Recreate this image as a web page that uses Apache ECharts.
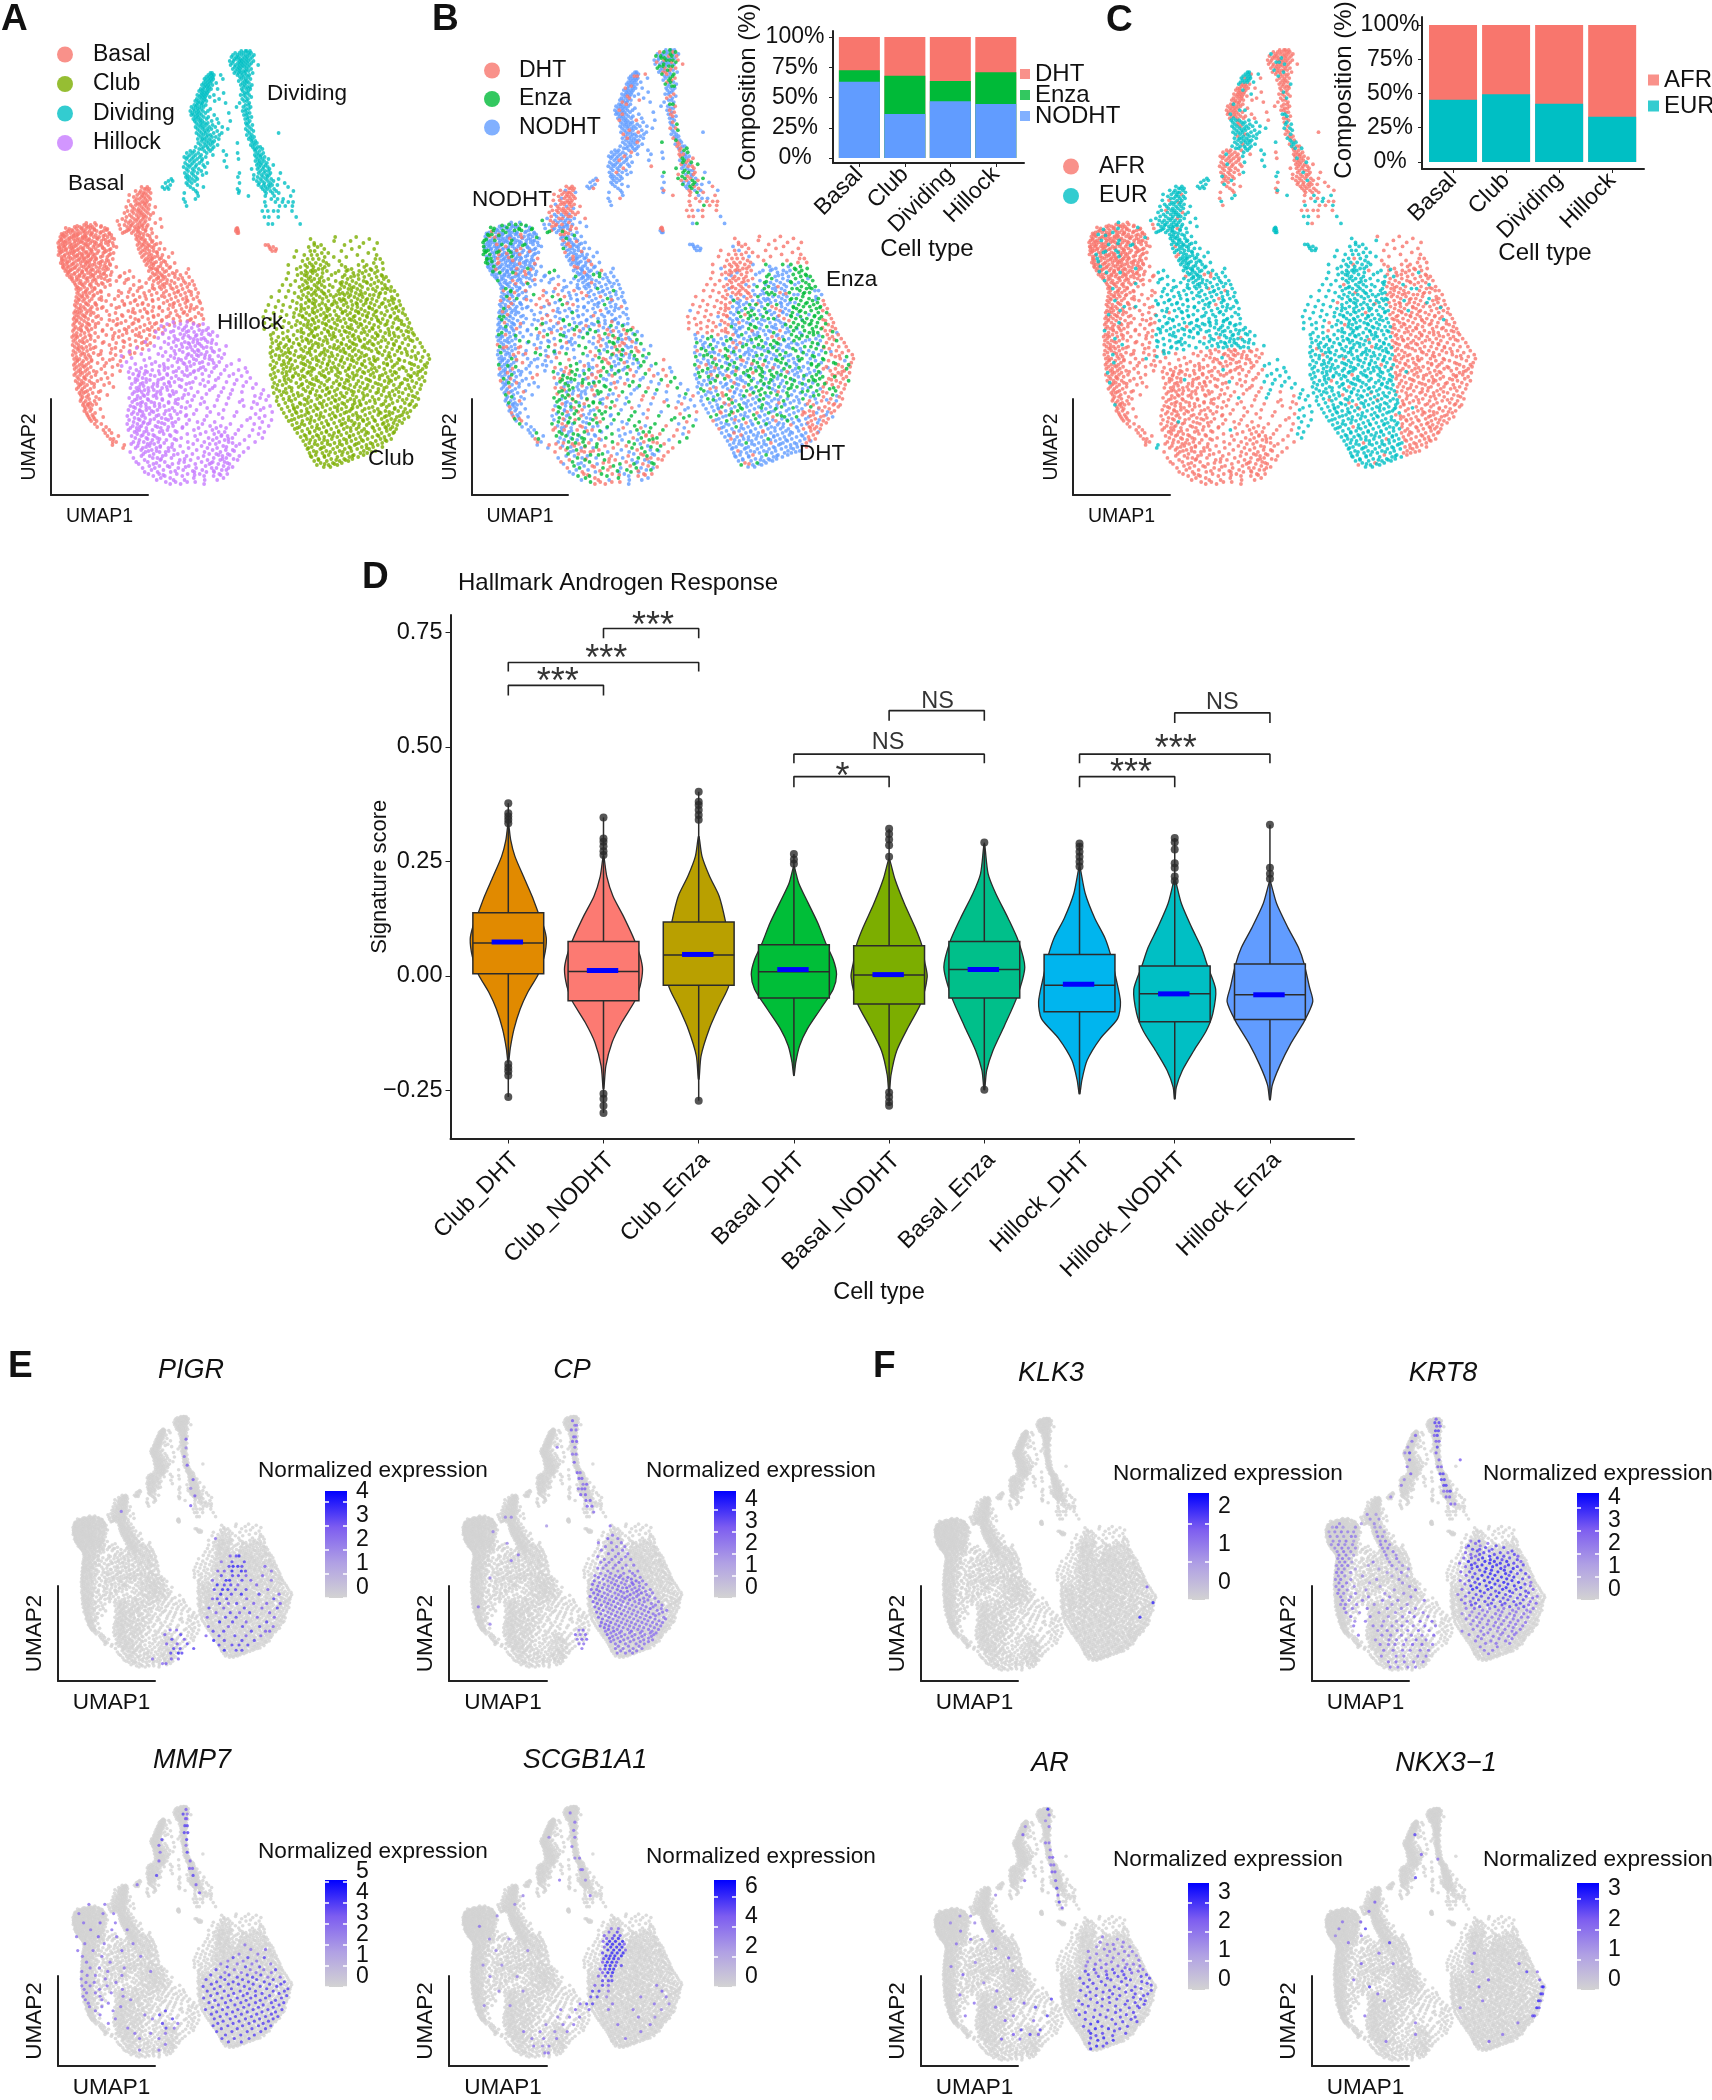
<!DOCTYPE html>
<html><head><meta charset="utf-8">
<style>html,body{margin:0;padding:0;background:#fff}#c{width:1712px;height:2100px}</style>
<script src="https://cdn.jsdelivr.net/npm/echarts@6/dist/echarts.min.js"></script></head>
<body><div id="c"></div>
<script>
// UMAP cells. Each row: [umap2, cell, cell, ...]; cell = umap1 in tenths
const dividingRows=[
[49,2441,2472],[51,2413,2454,2500,2467],[53,2352,2394,2433,2482,2511],[55,2329,2377,2416,2458,2493,2540],
[57,2314,2361,2387,2442,2474,2522],[59,2343,2368,2401,2429,2466,2503],[61,2297,2336,2395,2418,2451,2484,2535],
[63,2322,2379,2409,2437,2472,2514],[65,2306,2353,2391,2423,2459,2497,2582],[67,2348,2384,2416,2444,2481],[69,2328,2373,2402,2465,2512],
[71,2359,2396,2431,2486,2455],[73,2104,2121,2343,2385,2412,2449,2527],[75,2083,2115,2139,2207,2374,2422,2463,2494],
[77,2062,2097,2127,2399,2436,2481],[79,2044,2079,2108,2133,2229,2413,2458,2505],[81,2058,2092,2118,2387,2444,2472],
[83,2036,2071,2102,2162,2425,2461,2490],[85,2019,2053,2084,2124,2408,2447,2519],[87,2042,2067,2095,2437,2474,2498],
[89,2007,2032,2078,2111,2176,2416,2463,2503],[91,1991,2025,2059,2088,2428,2485],[93,2016,2044,2073,2236,2449,2471],
[95,1973,2008,2035,2066,2139,2406,2438,2492],[97,1995,2027,2052,2098,2457,2513],[99,1968,2013,2047,2191,2422,2479],
[101,1952,1986,2033,2064,2147,2441,2468],[103,1977,2004,2025,2256,2396,2493],[105,1943,1969,2017,2058,2454,2484],
[107,1914,1958,1994,2036,2365,2433,2507],[109,1936,1975,2011,2103,2461,2488],[111,1903,1947,1983,2029,2079,2426,2452],
[113,1923,1965,1998,2054,2288,2473,2497],[115,1912,1939,1977,2016,2142,2439,2462],[117,1954,1986,2038,2083,2482,2515],
[119,1933,1969,2006,2066,2171,2451,2476],[121,1947,1992,2024,2117,2303,2498],[123,1962,2009,2045,2078,2186,2458,2482],
[125,1982,2019,2061,2126,2469,2524],[127,1955,2003,2039,2093,2153,2223,2491],[129,1974,2028,2071,2114,2278,2457,2512],
[131,1996,2047,2084,2172,2478,2534],[133,1964,2015,2056,2137,2218,2496,2786],[135,1987,2033,2079,2104,2193,2468,2519],
[137,2009,2064,2121,2158,2503,2541],[139,1978,2027,2046,2093,2188,2521,2487],[141,2013,2068,2112,2143,2514,2553],
[143,1982,2041,2085,2127,2374,2532,2569],[145,2005,2059,2106,2176,2508,2547],[147,1956,2034,2073,2138,2527,2578,2603],
[149,1991,2018,2084,2121,2543,2562,2624],[151,1903,1942,2044,2102,2234,2551,2596],[153,1868,1925,1983,2067,2376,2572,2633],
[155,1899,1956,2012,2129,2264,2548,2588,2612],[157,1842,1878,1934,1997,2058,2561,2604,2647],[159,1863,1918,1971,2024,2385,2579,2622,2685],
[161,1896,1947,2016,2243,2554,2596,2641],[163,1851,1928,1993,2075,2583,2618,2669],[165,1874,1909,1964,2032,2568,2607,2654,2733],
[167,1836,1892,1952,2048,2267,2592,2638,2678],[169,1864,1926,1987,2516,2574,2627,2695],[171,1881,1942,2013,2603,2652,2682],
[173,1848,1917,1976,2064,2394,2586,2639,2705,2804],[175,1872,1933,2026,2538,2614,2667,2691],[177,1859,1894,1958,2379,2576,2631,2674],
[179,1713,1876,1921,1974,2536,2603,2658,2712,2786],[181,1684,1727,1892,1949,2568,2621,2679,2735],[183,1655,1863,1918,2395,2592,2644,2703,2847],
[185,1703,1879,1973,2583,2637,2686,2722,2774],[187,1624,1672,1904,2034,2612,2656,2698,2881],[189,1646,1687,1933,2375,2627,2673,2741],
[191,1958,2392,2648,2704,2762,2934],[193,1843,1973,2386,2661,2726,2788],[196,1982,2484,2653,2742,2907],[199,1836,1954,2713,2776,2832],
[202,1852,2648,2754,2824,2883,2931],[206,1866,2657,2795,2853,2924],[211,2623,2678,2736,2781,2920],[217,2644,2689,2783,2962],[224,2682,2725,3002]];
const basalRows=[
[187,1415,1473],[189,1443,1461,1494],[191,1356,1407,1482],[193,1394,1433,1451,1507],[195,1292,1372,1423,1469],[197,1338,1413,1441,1488],
[199,1367,1396,1454,1503],[201,1285,1349,1428,1473],[203,1374,1406,1439,1461],[205,1307,1358,1392,1448,1494],[207,1262,1326,1417,1466,1553],
[209,1343,1385,1434,1487],[211,1276,1319,1371,1403,1458],[213,1244,1334,1392,1421,1479,1533],[215,1297,1365,1412,1443,1506],[217,1264,1318,1387,1436,1462],
[219,1223,1342,1376,1429,1495,1604],[221,1174,1256,1303,1361,1408,1457],[223,863,949,1284,1331,1393,1442,1553],[225,841,907,962,1193,1245,1316,1372,1418,1478],
[227,746,798,883,926,1008,1272,1347,1395,1466,1617],[229,692,763,816,859,944,1074,1203,1298,1361,1429,1514],[231,684,728,781,835,897,967,1038,1266,1338,1384,1455],
[233,641,706,752,809,873,921,1002,1093,1226,1318,1407,1522],[235,627,669,738,776,846,905,958,1051,1113,1357,1393,1474],[237,603,648,714,763,824,861,937,992,1077,1375,1431,1565],
[239,618,681,735,791,848,893,976,1036,1142,1362,1416,1503],[241,594,657,699,752,817,869,921,1014,1096,1383,1442,1527],[243,581,628,672,743,786,832,904,962,1057,1127,1398,1468,1604],
[245,606,653,718,769,851,881,945,999,1082,1374,1423,1491,1546],[247,587,642,694,737,808,876,933,1024,1165,1409,1453,1517],[249,613,664,725,784,823,897,958,1043,1107,1386,1474,1593,1646],
[251,592,631,705,748,839,918,986,1063,1421,1498,1537],[253,602,673,719,796,859,903,972,1033,1136,1403,1461,1572,1724],[255,584,649,738,774,827,886,948,1091,1439,1516,1624],
[257,615,687,751,812,869,927,1007,1073,1419,1483,1547,1687],[259,622,659,728,793,844,911,964,1128,1458,1523,1596],[261,633,694,761,825,878,946,1021,1085,1444,1507,1638],
[263,607,671,738,806,867,893,986,1052,1478,1541,1612,1747],[265,642,712,772,853,925,1006,1103,1462,1534,1668],[267,628,689,753,835,884,962,1064,1163,1497,1582,1703],
[269,664,724,791,861,918,1029,1082,1513,1556,1627,1884],[271,652,697,776,822,903,974,1296,1488,1574,1663,1768],[273,683,749,817,879,955,1043,1246,1526,1598,1726,1863],
[275,671,712,793,846,927,1008,1107,1542,1617,1689,1804],[277,696,766,834,903,982,1193,1335,1509,1583,1651,1749,1891],[279,714,781,862,941,1047,1284,1492,1566,1632,1783],
[281,729,807,878,926,1076,1164,1394,1537,1607,1714,1837,1924],[283,745,793,851,963,1018,1245,1461,1582,1668,1746,1853],[285,756,826,897,984,1102,1337,1527,1623,1701,1812,1942],
[287,773,842,915,1051,1418,1596,1644,1767,1873],[289,762,809,873,947,1303,1544,1613,1729,1826,1956],[291,786,858,923,1006,1187,1375,1493,1662,1785,1889],
[293,771,832,896,975,1214,1441,1568,1637,1743,1851,1982],[295,794,864,941,1088,1333,1516,1694,1807,1913],[297,763,818,877,1013,1276,1397,1646,1758,1863,1971],
[299,785,846,918,992,1147,1462,1584,1712,1829,1934],[301,756,829,894,1061,1223,1345,1527,1673,1781,1877,1992],[303,773,857,952,1304,1428,1636,1742,1853,2003],
[305,747,804,883,964,1113,1244,1376,1483,1697,1799,1911],[307,762,836,919,1029,1192,1533,1594,1731,1864,1968],[309,788,851,904,973,1332,1445,1683,1816,1942,2021],
[311,753,815,879,1067,1283,1402,1522,1625,1758,1897],[313,741,797,864,937,1155,1349,1476,1704,1833,1986],[315,769,826,905,1094,1218,1583,1771,1872,2016],
[317,748,788,853,961,1305,1424,1537,1665,1796,1953],[319,735,812,882,1013,1173,1352,1482,1734,1911,2034],[321,764,841,927,1132,1257,1386,1616,1803,1876],
[323,744,796,869,985,1212,1337,1498,1564,1742,1935],[325,731,823,894,1072,1163,1446,1693,1992],[327,757,808,861,953,1288,1401,1519,1637],
[329,742,783,872,916,1116,1245,1363,1475,1586],[331,729,814,887,1024,1192,1325,1438,1548],[333,768,845,951,1147,1267,1394,1626],
[335,738,806,893,1063,1226,1356,1497],[337,721,775,852,982,1187,1412,1543],[339,754,829,907,1128,1294,1468],[341,733,797,871,948,1231,1356],
[343,762,841,1025,1162,1417,1503],[345,726,785,899,1094,1303,1472],[347,748,816,863,956,1236,1374],[349,773,832,905,1117,1425],[351,734,794,871,1012,1208,1298],
[353,758,823,936,1106,1347],[355,727,809,886,983,1156],[357,764,852,903,1233],[359,741,795,868,1027,1129],[361,774,833,915,1204],[363,752,819,887,976,1062],
[365,738,794,861,1178],[367,767,842,908,1124],[369,746,803,876,1013],[371,783,854,937,1201],[373,759,826,892,1054],[375,742,801,868,955,1123],[377,772,841,913],
[379,788,856,1012],[381,756,817,894,974],[383,779,838,916,1093],[385,801,871,1041],[387,785,846,941,1134],[389,767,823,904],[391,812,873,1005],[393,794,836,927],
[395,808,885,1073],[397,827,868,961],[399,813,892,993],[401,804,857,946],[403,838,901],[405,829,874,923],[407,846,892],[409,857,914,1004],[411,843,902],[413,866,951],
[415,874,923],[417,886,935,1032],[419,898,946],[421,912,966],[424,948,1013],[427,972,1061],[430,1034,1093],[433,1052,1116],[436,1075,1184],[439,1103,1136],[442,1127,1162],[445,1124,1243],[448,1231]];
const basalExtraRows=[
[226,771,1012,868,1306,1427],[228,821,657,1383,1049,906],[230,719,942,1283,1456,1067],[232,668,1011,847,1376,1246],[234,782,615,916,1437,1092],[236,739,1033,1496,854,637],[238,968,698,1404,826,1119],
[240,612,884,1452,773,1057],[242,947,641,1518,806,1083],[244,703,1012,859,1437,1566],[246,635,979,754,1482,1136],[248,836,593,1027,1535,714],[250,657,914,1444,773,1093],[252,1048,612,867,1568,739],
[254,931,694,1491,818,1104],[256,642,1026,771,1576,883],[258,957,706,1514,838,1612],[260,617,1066,786,1483,902],[262,853,669,1007,1562,1653],[264,728,948,1514,627,1098],[266,812,1043,1604,673,897],
[268,747,993,1528,1692,636],[270,864,1058,1573,708,932],[272,679,998,1644,824,1117],[274,908,741,1562,1749,1036],[276,797,1064,1626,936,1203],[278,722,1014,1584,1823,874],[280,957,764,1671,1098,1262],
[284,816,1029,1642,1893,908],[288,784,1392,1711,947,1526],[292,858,1288,1776,1011,1911],[296,824,1183,1618,1452,932],[300,791,1356,1868,1016,1524],[304,866,1243,1732,1423,954],[308,803,1163,1907,1592,1017],
[312,776,1325,1843,1468,911],[316,843,1227,1688,1534,982],[320,768,1386,1901,1094,1621],[324,884,1176,1547,1322,956],[330,811,1264,1496,1027],[336,762,1131,1386,908],[342,823,1244,1038,1438],[348,786,1154,936],[354,844,1302,1006],[360,772,1097,916],[366,828,1044],[372,805,967],[378,843,1076],[384,812,942],[392,853,986],[404,882,963]];
const hillockRows=[
[322,1733,1872],[324,1671,1804,1935,2031],[326,1612,1746,1863,1978],[328,1787,1845,2082,1917],[330,1653,1826,1992,2063],[332,1557,1708,1864,1941,2127],
[334,1628,1803,2016,2085],[336,1742,1883,1957,2174],[338,1583,1689,1829,1902,2039],[340,1781,1974,2055,2123],[342,1454,1645,1736,1848,1931,2076],
[344,1684,1815,1893,1996,2163],[346,1543,1762,1952,2014,2261],[348,1367,1608,1714,1871,2035,2112],[350,1489,1795,1923,1978,2194],[352,1293,1656,1828,1946,2068,2142],
[354,1413,1583,1754,1886,2012,2243],[356,1214,1627,1706,1917,1985,2098,2183],[358,1316,1497,1743,1859,2047,2217],[360,1442,1681,1812,1963,2123,2392],
[362,1265,1554,1773,1895,2024,2193],[364,1353,1518,1637,1846,1941,2084,2313],[366,1217,1458,1596,1722,1907,2163,2267],[368,1302,1412,1680,1788,2005,2141,2454],
[370,1364,1523,1643,1869,1984,2056,2246,2386],[372,1286,1394,1472,1734,1822,1935,2117,2471],[374,1331,1444,1596,1671,1903,2023,2208,2334],[376,1382,1548,1760,1876,2092,2292,2416],
[378,1294,1426,1634,1714,1957,2185,2503],[380,1375,1499,1582,1818,2031,2157,2368],[382,1352,1463,1688,1745,1929,2083,2265,2463],[384,1318,1405,1537,1642,1864,2002,2344,2561],
[386,1436,1574,1704,1796,2048,2148,2432],[388,1304,1364,1482,1621,1912,2125,2236,2528],[390,1394,1446,1538,1674,1853,2097,2323,2634],[392,1342,1417,1571,1762,1978,2213,2419],
[394,1324,1478,1608,1736,1884,2064,2305,2613],[396,1376,1444,1534,1703,1942,2186,2549,2686],[398,1292,1405,1567,1824,2019,2286,2601],[400,1346,1484,1624,1757,1921,2172,2424,2661],
[402,1322,1423,1512,1686,1873,2043,2396,2537],[404,1374,1458,1594,1778,2005,2264,2572],[406,1303,1408,1546,1642,1902,2145,2438,2701],[408,1352,1494,1724,1858,2072,2516,2637],
[410,1284,1397,1463,1574,1691,1965,2236,2605],[412,1336,1424,1534,1806,2103,2367,2722],[414,1318,1376,1496,1643,1772,1938,2187,2556],[416,1273,1418,1564,1857,2068,2343,2648],
[418,1345,1452,1617,1714,2226,2503,2593],[420,1291,1398,1504,1682,1893,2043,2471,2715],[422,1336,1439,1583,1754,1975,2147,2623],[424,1272,1374,1478,1646,1867,2024,2304,2542],
[426,1328,1414,1554,1731,2101,2208,2416,2687],[428,1304,1367,1463,1608,1823,1986,2163,2261,2598],[430,1284,1394,1524,1674,1939,2124,2384,2526],
[432,1345,1441,1596,1768,2058,2187,2247,2643],[434,1372,1486,1637,1873,2004,2142,2353,2585],[436,1316,1412,1547,1707,1951,2213,2276,2493],[438,1353,1463,1572,1812,2086,2167,2324,2624],
[440,1394,1524,1664,1764,1974,2128,2247,2445],[442,1334,1438,1583,1878,2043,2193,2286,2551],[444,1312,1476,1542,1723,1932,2097,2158,2396],[446,1377,1496,1603,1802,2016,2232,2361],
[448,1356,1428,1564,1684,1886,2074,2171,2483],[450,1412,1518,1742,1967,2126,2258,2327],[452,1302,1454,1596,1656,1831,2045,2204,2436],[454,1433,1536,1778,1924,2092,2163,2278],
[456,1414,1497,1627,1866,2036,2224,2393],[458,1334,1528,1574,1714,1981,2137,2263],[460,1446,1603,1798,1906,2075,2202,2376],[462,1362,1478,1648,1842,2016,2128,2245],
[464,1387,1534,1724,1953,2094,2183,2294],[466,1493,1594,1676,1888,2056,2236],[468,1426,1548,1783,1961,2117,2165,2285],[470,1515,1634,1832,2023,2218,2264],
[472,1447,1576,1707,1944,2064,2142],[474,1484,1592,1768,1876,1997,2193,2273],[476,1533,1648,1823,2041,2136],[478,1608,1702,1938,2235],[480,1567,1736,1845,2047,2172],
[482,1658,1756,1952,1872],[484,1702,1806,2041]];
const hillockExtraRows=[
[331,1886,2028,1734],[335,1967,1842,2103],[339,2012,1756,1938],[343,1883,2114,1976],[347,1824,2067,1906],[351,1987,1743,2126],[355,2051,1873,1968],[359,1786,1937,2094],[363,1996,1832,2137],[367,1644,1868,2033],
[371,1587,1456,1943,1762],[375,1506,1674,1388,1844],[379,1462,1613,1788,1354],[383,1576,1427,1692,1896],[387,1523,1668,1391,1812],[391,1487,1603,1726,1372],[395,1558,1432,1694,1841],[399,1476,1622,1368,1783],
[403,1543,1407,1686,1752],[407,1462,1597,1336,1814],[411,1516,1658,1398,1746],[415,1587,1437,1702,1864],[419,1542,1384,1658,1786],[423,1496,1618,1432,1722],[427,1574,1398,1683,1826],[431,1467,1624,1368,1752],
[435,1532,1698,1428,2216],[439,1596,1476,1744,2284],[443,1642,1508,1386,2326],[447,1461,1718,2264,1602],[451,1566,1686,2342,1484],[455,1658,1738,2298,2186],[459,1612,1846,2336,2226],[463,1564,1786,2274,2112],[467,1696,1856,2326],[471,1752,1928,2136],[475,1632,1946,2206]];
const clubRows=[
[237,3352,3562],[239,3105,3693],[241,3506,3341],[243,3142,3634,3772],[245,3143,3211,3445],[247,3087,3594,3176],[249,3243,3518,3742],[251,2964,3103,3147,3414],
[253,3218,3283,3683],[255,3043,3115,3172,3574,3766],[257,2942,3247,3338,3463],[259,3076,3129,3188,3754,3802],[261,3025,3233,3394,3628],[263,3096,3158,3263,3738,3826],
[265,2883,3052,3119,3205,3287,3416,3585,3667],[267,3004,3072,3134,3248,3454,3642,3763],[269,2967,3186,3225,3516,3704,3831],[271,3055,3108,3154,3269,3387,3463,3592,3658,3776],
[273,2883,3013,3072,3127,3226,3354,3533,3624,3749],[275,2975,3045,3171,3315,3448,3582,3691,3814],[277,3104,3218,3426,3509,3643,3766,3861],[279,2864,3017,3086,3143,3195,3283,3475,3587,3714,3838],
[281,2953,3052,3115,3238,3357,3524,3636,3784,3886],[283,3071,3176,3403,3463,3561,3672,3745,3817],[285,2825,2906,3029,3144,3217,3297,3415,3496,3599,3708,3849],
[287,2994,3083,3168,3246,3328,3443,3538,3622,3772,3912],[289,3047,3113,3186,3401,3484,3573,3679,3729,3824,3877],[291,2793,2885,3015,3154,3215,3287,3382,3514,3606,3757,3908,3945],
[293,2946,3083,3139,3233,3426,3475,3558,3652,3804,3854],[295,3031,3116,3164,3305,3362,3446,3505,3593,3698,3738,3975],[297,2713,2858,2984,3067,3197,3265,3336,3487,3544,3627,3786,3918],
[299,3013,3134,3226,3395,3432,3576,3674,3722,3849,3943],[301,2785,2926,3094,3158,3283,3344,3412,3513,3609,3767,3884,3992],[303,2969,3057,3125,3222,3367,3464,3562,3658,3708,3829,3934],
[305,2684,2832,3011,3193,3254,3316,3436,3525,3634,3746,3896,4003],[307,2755,2901,3083,3152,3375,3478,3574,3691,3793,3857,3964],[309,2963,3045,3126,3211,3293,3406,3518,3612,3724,3923,4032],
[311,2657,2818,3008,3175,3274,3345,3456,3558,3649,3766,3871,3987],[313,2736,2941,3063,3144,3239,3423,3502,3587,3683,3813,3942,4026],[315,2866,2992,3095,3207,3301,3362,3473,3626,3735,3848,4052],
[317,2633,2804,2937,3028,3164,3266,3388,3534,3672,3764,3902,3974],[319,2703,3055,3123,3241,3326,3441,3495,3598,3716,3827,3953,4073],[321,2842,2971,3083,3186,3288,3405,3546,3648,3783,3876,4014],
[323,2645,2763,2889,3004,3147,3225,3345,3457,3567,3694,3806,3934,4094],[325,2721,2957,3039,3112,3264,3372,3512,3615,3741,3851,4042],[327,2828,2916,3071,3183,3303,3426,3476,3583,3664,3786,3922,4082],
[329,2642,2765,3013,3098,3156,3244,3357,3522,3632,3728,3883,3971,4114],[331,2879,2975,3123,3277,3394,3445,3558,3694,3804,4012,4063],[333,2733,2828,3036,3113,3216,3335,3495,3614,3758,3852,3937,4128],
[335,2707,2936,3087,3174,3298,3412,3536,3673,3778,3894,4033,4142],[337,2783,2871,3015,3145,3253,3351,3478,3584,3722,3831,3986,4083],[339,2715,2834,2968,3061,3196,3318,3434,3548,3646,3752,3918,4052,4172],
[341,2762,2893,3024,3112,3235,3373,3496,3604,3698,3814,3962,4126],[343,2724,2806,2935,3087,3157,3276,3412,3523,3675,3782,3883,4024,4202],[345,2785,2861,2996,3128,3221,3343,3463,3564,3642,3737,3942,4083],
[347,2708,2842,2918,3052,3184,3299,3388,3502,3624,3806,3868,3996,4147,4222],[349,2769,2884,3011,3096,3245,3367,3435,3547,3688,3762,3921,4052],[351,2727,2814,2957,3034,3153,3276,3404,3526,3587,3716,3847,3974,4123,4245],
[353,2703,2853,2902,3072,3213,3315,3457,3616,3791,3892,4016,4182],[355,2756,2829,2943,3108,3198,3252,3376,3494,3558,3664,3825,3947,4073,4283],[357,2714,2871,2985,3047,3161,3293,3422,3522,3604,3738,3901,4112,4226],
[359,2792,2907,3029,3126,3238,3357,3474,3583,3692,3778,3862,3986,4162,4294],[361,2732,2836,2953,3075,3187,3294,3406,3536,3645,3753,3914,4045,4208],[363,2765,2884,3012,3101,3223,3331,3444,3568,3702,3837,3972,4096,4273],
[365,2704,2817,2921,3054,3168,3275,3389,3504,3625,3724,3873,3946,4143,4246],[367,2747,2866,2974,3093,3206,3346,3427,3542,3656,3792,3926,4023,4182,4262],
[369,2725,2834,2943,3034,3142,3264,3371,3485,3598,3714,3842,3993,4114,4226],[371,2781,2898,3016,3117,3231,3318,3456,3574,3684,3767,3904,4062,4204],
[373,2741,2823,2956,3073,3194,3287,3402,3526,3644,3732,3857,3962,4142,4255],[375,2706,2867,2985,3109,3216,3358,3473,3568,3705,3824,3923,4082,4172],
[377,2754,2841,2927,3047,3163,3251,3381,3496,3613,3742,3878,3986,4106,4224],[379,2723,2883,3004,3128,3292,3415,3532,3663,3794,3956,4047,4192],
[381,2796,2909,3066,3183,3271,3366,3484,3584,3703,3846,3913,4122,4246],[383,2742,2861,2963,3097,3212,3335,3448,3626,3754,3887,4022,4164],
[385,2775,2825,3012,3142,3244,3392,3502,3678,3812,3938,4082,4212],[387,2728,2892,2986,3079,3197,3318,3434,3546,3602,3728,3868,3992,4143],
[389,2764,2857,3033,3125,3265,3373,3484,3643,3784,3962,4056,4201],[391,2794,2916,3057,3168,3224,3346,3515,3587,3702,3836,3926,4116],
[393,2738,2866,2977,3102,3289,3408,3466,3628,3762,3892,4027,4172],[395,2813,2934,3019,3156,3257,3361,3528,3674,3815,3946,4086],[397,2772,2892,3085,3208,3325,3447,3564,3725,3862,3994,4152],
[399,2834,2953,3044,3172,3286,3393,3504,3632,3788,3912,4067,4184],[401,2766,2915,3113,3238,3356,3475,3594,3698,3854,3975,4123],[403,2853,2997,3079,3196,3312,3422,3547,3662,3752,3926,4048],
[405,2788,2928,3047,3149,3268,3381,3528,3608,3813,3892,4092,4162],[407,2876,2974,3105,3226,3345,3462,3574,3726,3867,4008,4142],[409,2816,2942,3068,3179,3302,3416,3514,3648,3778,3946,4052],
[411,2895,3013,3134,3253,3376,3498,3623,3742,3854,3982,4104],[413,2838,2967,3087,3208,3327,3444,3562,3698,3808,3926,4072],[415,2921,3051,3165,3294,3405,3529,3652,3782,3894,4021],
[417,2864,2986,3112,3236,3358,3487,3604,3724,3846,3968,4086],[419,2945,3073,3191,3314,3432,3576,3676,3816,3912,4042],[421,2887,3024,3146,3263,3396,3517,3634,3752,3872,3992],
[423,2968,3098,3217,3341,3452,3548,3692,3838,3936,4022],[425,2923,3045,3172,3285,3413,3534,3667,3774,3884,3972],[427,2994,3119,3238,3366,3471,3588,3723,3852,3924],
[429,2947,3076,3193,3312,3438,3564,3642,3794,3904,3962],[431,3021,3148,3264,3387,3508,3618,3746,3868],[433,2973,3097,3216,3341,3466,3584,3682,3816,3932],
[435,3044,3167,3293,3412,3534,3652,3772,3892],[437,3006,3128,3242,3372,3496,3602,3724,3844],[439,3067,3194,3318,3439,3558,3676,3806,3912],[441,3032,3152,3275,3396,3514,3632,3758,3866],
[443,3093,3219,3345,3467,3588,3704,3822],[445,3055,3176,3302,3421,3546,3664,3778],[447,3118,3241,3373,3492,3618,3732,3824],[449,3074,3203,3331,3448,3572,3692],
[451,3137,3263,3396,3514,3638,3756],[453,3095,3224,3352,3476,3604,3672],[455,3158,3287,3419,3538,3636],[457,3116,3245,3374,3493,3582],[459,3183,3312,3442,3524],
[461,3142,3268,3396,3484],[463,3207,3329,3418],[465,3169,3286,3374],[467,3238,3304]];
const clubExtraRows=[
[270,3128,3479,3716],[276,3067,3542,3823],[282,3196,3664,3421],[288,3072,3857,3516],[294,3246,3618,3793,3397],[300,3086,3447,3662,3918],[304,3329,3571,3143,3816],[308,3014,3694,3268,3959],[312,3427,3126,3752,3583],
[316,3261,3906,3024,3548,3667],[320,3374,3132,3778,3513,3989],[324,3078,3604,3256,3867,4016],[328,3496,3152,3721,3318,3984],[332,3011,3647,3283,3892,3461,4086],[336,3136,3524,3777,3332,3948],[340,2893,3269,3596,3854,3073,4103],
[344,3182,3722,3417,2986,3936,3538],[348,3335,2792,3654,3117,3997,3486],[352,2886,3238,3777,3441,4068,3094],[356,3011,3642,3326,2794,3883,4153],[360,3167,3516,2898,3742,3996,3412],[364,3277,3618,3036,3873,4116,2843],
[368,3124,3489,3748,2907,4038,3312],[372,2863,3381,3629,3086,3946,4181],[376,3241,3542,3027,3798,4112,2931],[380,3162,3466,2846,3687,3893,4073],[384,3023,3398,3781,3116,4006,3564],[388,2917,3276,3668,3842,4096,3451],
[392,3103,3539,2836,3781,3987,3296],[396,2987,3424,3641,3194,3896,4128],[400,3067,3349,3746,2889,4026,3542],[404,3218,3602,3008,3834,4104,3443],[408,2938,3371,3689,3164,3948,3526],[412,3071,3466,3792,2957,3892,4036],
[416,3203,3574,3016,3862,3348,3998],[420,3107,3486,3742,2916,3628,3951],[424,3278,3592,3016,3826,3421],[428,3168,3506,3732,2972,3862],[432,3096,3387,3664,3264,3943],[436,3182,3496,3058,3786,3328],[440,3241,3618,3104,3852,3462],
[444,3146,3398,3724,3276,3562],[448,3216,3506,3084,3668],[452,3166,3428,3716,3302],[456,3243,3526,3106],[460,3186,3362,3456],[464,3247,3346]];
const islandRows=[[228,2372],[229,2362,2376],[231,2358,2382],[233,2372,2384],[245,2654,2682],[247,2694,2732],[249,2703,2762],[251,2722,2754]];
// Share of treatment and ancestry seen in each area: the cell's last digit picks a letter of its area's mix
const mixNODHT="NNNNNNNNDE", mixNODHTedge="NEENENNENN", mixDHT="DDDDDDDNDD", mixNeck="NNDNDNDNNN", mixLower="NNNNNNDNEN", mixMid="NNNDNNEDNN";
const mixHillockEnza="ENENDEENNE", mixHillockLow="NENDENDEND", mixHillock="NNDENNDNEN";
const mixClubEnza="EEEEENEENE", mixClubBlue="NNNNNENNDN", mixClubMid="NENENNENED", mixClubLeft="NENNENNDNE", mixClubEdge="DDDDDDEDND", mixClubBase="NNNNNNNDNE", mixClubCorner="DNDNDDNEDN";
const mixArmTop="NEDNEDNNEN", mixArm="NNDNENNDNN", mixBlob="NDNENDENDE", mixLeftArm="NNNNNNNDNN", mixTail="DDNDDENDDD";
const mixAFR="AAAAAAAAAU", mixEUR="UUUUUUUUUA", mixBoth="AAUAUAAUAU";
// Gene expression overlays. Each row: [umap2, cell, ...]; cell = umap1*10 + expression level 1-9
const PIGR=[[90,2507],[105,2505],[120,2476],[135,2527],[160,2627],[175,2585],[188,2657],[205,2587],[215,1406],[262,3006],
[292,3257,3358,3409],[302,3106,3288,3498],[310,3238,3309,3389,3458,3847],[318,3047,3157,3289,3449,3518,3956],
[326,3108,3298,3398,3527,3807],[334,2957,3189,3249,3458,3607,3956],[342,3039,3158,3268,3387,3707],[350,2988,3129,3219,3348,3528,3897],
[358,3099,3278,3449,3748,4087],[366,2957,3038,3198,3537,3998],[374,3078,3227,3368,3657,3877,4107],[382,2898,3147,3498,3797,4058],
[390,3017,3258,3417,3588,3927],[398,2867,3178,3358,3717,4007],[406,3079,3298,3527,3878],[414,2887,3227,3468,3758,3987],
[422,2968,3148,3618,3857,3927],[430,2847,3068,3338,3527,3777],[438,2979,3158,3458,3668],[446,3068,3288,3408,3558],[455,3159,3358,3458],
[420,2236,2347],[428,2147,2418],[436,2268,2477],[444,2177,2357,2528],[452,2298,2408,2638],[460,2248,2379,2438],[470,1936,2257,2377],[478,2106,2167]];
const CP=[[58,2447],[66,2486,2516],[74,2427,2506],[86,2467,2496],[94,2447,2517],[104,2186,2486],[116,2446,2506],[130,2477],
[148,2527,2576],[158,2557,2607],[168,2626,2687],[176,2546,2607,2657],[186,2587,2667],[196,2677,2747],[206,2697,2777],[216,2806],[225,1305,1405],[240,2004,3086],
[420,2556,2627],[428,2497,2576,2667],[436,2526,2607,2687],[444,2556,2636],[452,2606],[300,1406],[250,1095],[270,1335],[330,1045],[380,846],[410,1045],[290,1526],
[256,3126],[262,3047,3216],[269,2886,3106,3276],[276,3006,3196,3336],[282,2936,3126,3296],[288,3056,3226,3386],[293,2876,3176,3346],[298,2986,3116,3276,3436],
[303,2926,3066,3237],[308,3016,3176,3356,3486],[313,2876,2966,3136,3296],[318,3046,3216,3416,3556],[322,2926,3096,3316,3466],[326,2826,3006,3176,3266,3506],
[329,2887,3076,3237,3387,3596],[332,2967,3136,3306,3447],[335,2817,3046,3196,3366,3527,3636],[338,2906,3106,3276,3457,3576],[341,2787,2986,3167,3336,3477,3696],
[344,2877,3056,3227,3416,3586],[347,2957,3126,3296,3367,3506,3646],[350,2767,2857,3036,3207,3456,3576,3766],[353,2907,3086,3267,3377,3537,3686],
[356,2807,2986,3166,3316,3486,3617,3806],[359,2877,3046,3226,3427,3566,3706],[362,2747,2947,3116,3286,3376,3536,3756],[365,2837,3006,3187,3337,3476,3656,3846],
[368,2906,3076,3256,3417,3587,3726],[371,2797,2986,3147,3306,3506,3666,3906],[374,2867,3047,3216,3386,3576,3786],[377,2937,3106,3276,3456,3636,3856,3966],
[380,2827,3016,3177,3346,3526,3696,3816],[383,2897,3076,3247,3416,3606,3767,3956],[386,2967,3136,3316,3486,3666,3886,4046],[389,2857,3046,3206,3386,3556,3737,3976],
[392,2927,3106,3277,3456,3626,3816,3916],[395,3006,3177,3346,3526,3696,3856],[398,2887,3067,3236,3416,3596,3767,3996],[401,2957,3136,3306,3486,3666,3846,4026],
[404,3036,3206,3376,3556,3726,3916],[407,2937,3097,3276,3446,3626,3806,3976],[410,3007,3176,3346,3516,3696,3876],[413,2917,3067,3237,3416,3586,3766,3946],
[416,2987,3136,3306,3486,3656,3836],[419,3057,3206,3386,3556,3736,3906],[422,3006,3147,3276,3447,3626,3796],[425,3096,3246,3416,3596,3766,3866],
[428,3037,3186,3336,3506,3676,3826],[431,3126,3276,3456,3626,3786],[434,3077,3216,3386,3566,3736],[437,3146,3316,3486,3656,3806],[440,3096,3257,3426,3596,3736],
[444,3176,3346,3526,3666],[448,3226,3396,3576],[452,3176,3306,3476,3626],[456,3266,3416,3536],[460,3206,3346,3466]];
const MMP7=[[56,2507],[64,2458,2526],[72,2497,2517],[84,2488,2528],[96,2478,2538],[108,2518,2098],[118,2506,2047],[130,2066,2528],[145,2047,2577],
[158,2567,2617],[170,2628,2008],[186,2677,1676],[200,2737],[220,856,1126],[236,686,1096,1276],[252,1047,1306,766],[264,886,1246,1506],[276,646,1017,1326],
[288,786,1116,1606],[300,666,926,1417],[310,746,1076,1736],[320,816,1216],[330,876,1036,1456],[336,736,1176,1906],[343,826,966,1416],[349,726,1136],[355,806,946,1316],[361,736,876,1166],
[367,776,1036,1426],[373,816,966,1236],[379,756,1046,1436],[385,796,1076,1566],[391,846,1186],[397,866,1076,1396],[404,966,1266,2158],[411,1046,1806,2058],[418,1306,1936,2278],[426,1186,2108,2366],
[434,1516,2168,2306],[443,1636,1906,2156],[452,1716,2046],[462,2156],[472,1716,2046],
[290,3506],[298,3606,3857],[306,3406,3726],[312,3308,3558,3838],[318,3216,3476,3706],[323,3096,3376,3626,3946],[328,3208,3518,3758],[333,3018,3326,3596,3826,4028],[338,3166,3446,3696,3956],
[342,2928,3238,3548,3778],[346,3098,3378,3638,3896,4107],[350,2848,3168,3468,3708,3988],[354,3028,3308,3568,3838,4178],[358,2938,3228,3398,3648,3928,4118],[362,2798,3088,3498,3768,4048],[366,2988,3278,3588,3878,4238],
[370,2868,3158,3428,3688,3988,4178],[374,3038,3318,3548,3798,4088],[378,2928,3228,3478,3688,3928,4218],[382,2808,3118,3378,3608,3858,4128],[386,2998,3268,3528,3768,4028],[390,2898,3178,3438,3688,3958,4168],
[394,3058,3338,3578,3818,4088],[398,2958,3218,3488,3738,3988],[402,2838,3128,3388,3648,3898,4138],[406,3028,3298,3548,3798,4028],[410,2938,3198,3448,3708,3958],[414,3088,3348,3618,3858,4068],
[418,2988,3258,3518,3758,3988],[422,3138,3408,3668,3908],[426,3048,3308,3578,3818],[430,2968,3218,3468,3738,3948],[435,3108,3378,3628,3858],[440,3028,3288,3548,3778],[446,3178,3438,3668],[452,3118,3328,3578],[458,3228,3448]];
const SCGB1A1=[[62,2406],[78,2486],[92,2466],[104,2486,2045],[120,2436],[140,2485,2566],[160,2586,2616],[178,2665,2226],[205,2746,1605],[220,1465],
[262,3106,3226],[268,3067,3208],[274,2987,3158,3258],[279,3027,3128,3229],[284,2967,3079,3179,3299],[289,3039,3129,3249,3327],[294,2987,3099,3199,3289],[299,3049,3149,3249,3347],
[304,2958,3119,3209,3309],[309,3019,3089,3169,3279],[314,2978,3069,3149,3228],[320,2957,3039,3119,3198],[326,3009,3089,3178,3278],[332,2917,2998,3079,3149],[338,2957,3049,3129],[344,2887,3008,3108],[352,2958,3058,3118],
[360,2827,2958,3057,3876],[370,2788,2898,3056,3967],[380,2758,2868,3025,3606,4036],[392,2577,2688,2788,3126,3836,4085],[402,2246,2497,2727,3056,3476,3955],
[415,2195,2396,2566,3566,3845],[428,1995,2286,2466,3216,3766],[440,1616,1896,2145,2356,3606],[452,1756,1956,2176,3346],[465,1786,1935,2046],[477,2036,1976],
[240,1165],[258,866],[280,1035,1365],[300,1145,1685],[325,1245,925],[345,1505,1045],[370,1195,1605],[395,945,1385]];
const KLK3=[[341,4157],[368,4259],[393,4039]];
const KRT8=[[52,2457],[58,2438,2508],[64,2467,2527],[72,2448,2498],[80,2107,2478,2427],[90,2046,2507,2457],[100,1975,2478],[110,1925,2008,2457],[122,2007,2507,2867],
[134,1966,2547,2487],[146,2027,2578,2528],[156,1915,2598,2548],[166,1866,2628,2588],[176,2647,2586,2698],[186,1685,2687,2627],[198,2707,2776],
[216,1285,1434],[224,1335,1485],[232,815,1184,1405],[238,694,766,874,1085,1414,1504],[246,634,735,846,955,1055,1445,1574],[254,655,775,884,1016,1085,1466,1545],
[262,705,815,926,1054,1505,1596],[268,675,796,905,1035,1516,1665],[274,735,856,965,1085,1545,1636],[280,775,886,1005,1575,1726],[286,806,926,1054,1606,1775],
[292,785,866,975,1624,1786],[298,815,906,1024,1386,1665,1824],[304,765,856,956,1304,1706,1885],[310,795,895,1084,1484,1784,1985],[316,766,856,1005,1624,1866],[322,795,905,1205,1704,1964],
[328,745,836,1005,1445,1825],[334,806,936,1324,1885],[340,755,866,1065,1504,2005],[346,806,945,1265,1745,2107],[352,786,885,1086,1585,1905],[358,836,1005,1306,1666,2026],
[364,866,976,1206,1546,1806,2256],[371,835,916,1106,1405,1705,1965],[378,896,1036,1286,1626,1866,2106],[385,926,1155,1485,1765,2006,2236],[392,1006,1336,1645,1886,2087,2316],[400,1075,1256,1565,1785,1966,2187,2387],
[408,1056,1386,1536,1706,1877,2066,2267,2446],[416,1465,1626,1796,1976,2157,2336],[424,1136,1536,1686,1866,2036,2216,2417],[432,1425,1656,1786,1946,2117,2286],[440,1506,1646,1756,1906,2057,2217,2396],[450,1566,1726,1886,2016,2186,2326],[460,1526,1776,1906,2146,2286],[470,1646,1776,1916,2076,2236],[479,1676,1806,1976,2106],
[262,3046,3188],[266,3127,3336],[270,3009,3206,3478],[273,2966,3298,3608],[276,3078,3198,3408],[279,3158,3358,3748],[282,2957,3268,3548,3677],[285,3047,3198,3448,3788],[288,3127,3369,3608,3847],
[291,2927,3058,3249,3499,3708],[294,3178,3379,3578,3838],[297,3009,3289,3449,3659,3897],[300,2857,3118,3369,3549,3778],[303,3059,3239,3489,3689,3938],[306,2957,3159,3419,3628,3838],[309,3068,3309,3559,3769],
[312,3198,3399,3619,3898],[315,2877,3028,3289,3509,3729],[318,3118,3379,3639,3838,3978],[321,2967,3239,3459,3698],[324,3078,3339,3569,3779,4037],[327,3169,3419,3659,3928],[330,2867,3018,3279,3509,3749],
[333,3118,3369,3609,3859,4066],[336,2947,3199,3459,3679,3968],[339,3049,3309,3538,3789,4057],[342,3149,3399,3649,3899],[345,2897,3079,3339,3589,3818,4107],[348,3209,3468,3709,3978],[351,3018,3278,3529,3758,4028],
[354,2826,3138,3388,3638,3888],[357,2957,3228,3489,3718,3988,4176],[360,3088,3348,3598,3838,4097],[363,2887,3178,3428,3678,3938],[366,3037,3288,3548,3778,4057],[369,2947,3128,3398,3628,3888,4157],
[372,3058,3338,3578,3818,4027],[375,3198,3458,3708,3948],[378,2966,3107,3366,3606,3856,4106],[381,3246,3516,3756,3996],[384,3065,3326,3576,3816,4056],[387,2895,3186,3466,3706,3946],
[390,3026,3286,3546,3786],[393,3146,3406,3656,3906,4016],[396,2966,3236,3516,3766],[399,3086,3346,3606,3846],[402,3196,3466,3716,3976],[405,3045,3326,3566,3806],[408,3156,3436,3686,3926],
[411,3256,3516,3766],[414,3086,3376,3626,3886],[417,2896,3216,3495,3746],[420,3336,3586,3816],[423,3016,3266,3555,3786],[426,3166,3426,3686],[430,3226,3526,3746],[434,3126,3386,3636],[438,3296,3476,3706],[444,3206,3496],[450,3276,3416],[456,3346]];
const AR=[[52,2489],[62,2506],[72,2445],[82,2506,2105],[96,2067],[110,2446,2506],[122,2526],[135,2567,2516],[148,2586,2536],[160,2607,2557],[175,2096,2617],[188,2638],[200,1605,2657],
[212,2678],[222,2727],[236,1185,1005],[248,845,1255],[262,1016,1557],[276,1186,1375],[284,946],[292,1606],[308,1827],[316,1265],[323,856],[330,1896],[337,1057],[351,1405],[365,1626],[372,1006],[379,1857,2548],[386,1246,2087],[393,1607,2278],
[408,1096,1906,2478],[416,1767,2246],[432,2038,2358],[440,1907,2188,2327],[448,1707,2016],
[272,3406],[276,3655],[281,3366,3756],[285,3485,3586],[289,3305,3736,3865],[293,3436,3606],[297,3166,3526,3776,3906],[301,3306,3676],[304,3486,3846,3975],[308,3196,3586],[312,3366,3756,4016],[315,3156,3556],
[319,3287,3467,3816,3926],[322,3126,3667,4037],[325,3387,3787],[328,3268,3578,3868,4086],[331,3118,3467,3738,4007],[334,3297,3608,3897],[337,3168,3478,3768,4148],[340,3338,3668,4058],[343,3028,3488,3798,4198],
[346,3188,3548,3878],[349,3388,3728,4068],[352,3088,3248,4158],[355,3458,3818,4228],[358,3158,3608,3958],[361,3308,3688,4058],[364,3038,3528,3898,4228],[367,3198,3418,3798],[370,3578,3958,4168],
[373,3128,3298,3698,4098],[376,3518,3928],[379,3208,3408,3648,4048],[382,3008,3828,4128],[385,3318,3528,3958],[388,3068,3788,4108],[391,3168,3398,3628,3998],[394,3858,4028],[398,2958,3278,3498,3708],
[402,3118,3628,3928],[406,3018,3368,3808],[410,3258,3468,3708,3958],[414,3118,3568,3888],[418,3329,3748,3988],[422,3209,3628],[426,3088,3398,3828],[430,3289,3509,3698],[434,3178,3608],[438,3209,3408,3798],
[442,3578,3298],[446,3429,3208],[450,3329,3589],[455,3188,3478],[460,3309,3418],[465,3209]];
const NKX3_1=[[96,2098],[130,2207],[138,2486],[170,2108],[212,1417],[228,1316],[246,866,1177],[258,806,1258],[270,745,1186],[282,966,1668],[300,1486,3106],[318,1187,1726,3066,3866],
[332,3076,3998,4176],[346,1056,3347,4217],[358,1328,3187,4258,4279],[370,1466,4239,4268],[382,1576,3246,4199,4228],[394,2866,4169,4208],[408,1246,4128,4098],[420,2106,3846],[440,2106,3586],[452,1606,3357]];
// Stacked composition insets
const cellTypes=["Basal","Club","Dividing","Hillock"];
const compNODHT=[63,36.3,46.9,44.6];
const compEnza=[9.6,31.7,16.8,26.3];
const compDHT=[27.4,32,36.3,29.1];
const compEUR=[45.5,49.5,42.5,33];
const compAFR=[54.5,50.5,57.5,67];
// Violin panel: score, half width (in category steps)
const groupNames=["Club_DHT","Club_NODHT","Club_Enza","Basal_DHT","Basal_NODHT","Basal_Enza","Hillock_DHT","Hillock_NODHT","Hillock_Enza"];
const vClubDHT=[[.333,.003],[.297,.025],[.261,.07],[.217,.16],[.174,.25],[.138,.315],[.109,.37],[.08,.4],[.043,.378],[.004,.315],[-.036,.203],[-.072,.125],[-.116,.06],[-.159,.02],[-.188,.004]];
const vClubNODHT=[[.261,.004],[.217,.035],[.174,.1],[.13,.21],[.076,.33],[.043,.385],[.014,.41],[-.022,.385],[-.054,.33],[-.101,.193],[-.145,.09],[-.196,.025],[-.246,.004]];
const vClubEnza=[[.304,.004],[.261,.035],[.217,.115],[.174,.215],[.12,.28],[.08,.31],[.029,.335],[-.022,.315],[-.065,.217],[-.116,.11],[-.174,.025],[-.225,.004]];
const vBasalDHT=[[.239,.004],[.203,.05],[.159,.15],[.116,.25],[.069,.34],[.036,.413],[.004,.448],[-.029,.413],[-.072,.28],[-.116,.14],[-.152,.06],[-.188,.02],[-.217,.003]];
const vBasalNODHT=[[.255,.005],[.212,.06],[.158,.16],[.105,.275],[.066,.345],[.03,.375],[-.002,.4],[-.061,.33],[-.109,.207],[-.163,.08],[-.216,.02],[-.254,.004]];
const vBasalEnza=[[.287,.004],[.223,.04],[.18,.12],[.126,.25],[.075,.36],[.019,.425],[-.045,.345],[-.109,.21],[-.163,.09],[-.206,.025],[-.248,.004]];
const vHillockDHT=[[.239,.004],[.18,.06],[.126,.16],[.084,.265],[.047,.325],[-.002,.38],[-.056,.43],[-.093,.4],[-.136,.22],[-.184,.08],[-.227,.025],[-.257,.004]];
const vHillockNODHT=[[.212,.004],[.158,.07],[.105,.18],[.062,.28],[.022,.345],[-.029,.43],[-.082,.4],[-.12,.33],[-.163,.2],[-.206,.08],[-.243,.016],[-.268,.004]];
const vHillockEnza=[[.207,.004],[.158,.07],[.105,.19],[.062,.3],[.026,.36],[-.024,.415],[-.056,.45],[-.099,.36],[-.147,.22],[-.195,.105],[-.238,.025],[-.27,.004]];
const q1s=[.005,-.054,-.02,-.048,-.061,-.048,-.078,-.1,-.095];
const medians=[.072,.01,.046,.009,.002,.014,-.02,-.039,-.041];
const q3s=[.138,.075,.118,.068,.066,.075,.047,.022,.026];
const means=[.074,.012,.047,.014,.003,.014,-.018,-.039,-.041];
const whiskHi=[.377,.346,.402,.266,.321,.291,.289,.301,.33];
const whiskLo=[-.264,-.299,-.272,-.217,-.283,-.248,-.257,-.268,-.27];
const outliers=[[.377,.355,.348,.341,.333,-.192,-.2,-.208,-.217,-.264],[.346,.3,.293,.283,.272,.264,-.257,-.268,-.283,-.299],
[.402,.38,.373,.362,.351,.341,-.272],[.266,.254,.245],[.321,.31,.298,.285,.26,-.254,-.264,-.275,-.283],[.291,-.248],
[.289,.282,.271,.26,.249,.239],[.301,.292,.276,.246,.236,.217,.207],[.33,.236,.223,.212]];
const groupColors=["#E18A00","#FC7A72","#B9A000","#00BE38","#7CAE00","#00BF8A","#00B5EE","#00BFC4","#619CFF"];
// brackets: from, to, top score, lower end, label, label x, label score
const brackets=[[2,3,.758,.737,"***",2.52,.761],[1,3,.684,.664,"***",2.03,.689],[1,2,.634,.612,"***",1.52,.638],
[5,6,.579,.557,"NS",5.51,.599],[4,6,.484,.464,"NS",4.99,.51],[4,5,.435,.412,"*",4.51,.432],
[8,9,.574,.552,"NS",8.5,.596],[7,9,.484,.464,"***",8.01,.492],[7,8,.435,.412,"***",7.54,.44]];

const FONT='"Liberation Sans",Arial,sans-serif';
const C={Basal:"#F8766D",Club:"#7CAE00",Dividing:"#00BFC4",Hillock:"#C77CFF",DHT:"#F8766D",Enza:"#00BA38",NODHT:"#619CFF",AFR:"#F8766D",EUR:"#00BFC4"};
function treatMix(k,x,y){
  if(k=='Dividing'){if(y>193)return mixTail;if(x>=250&&y>150)return mixBlob;if(x>=228&&y<90)return mixArmTop;if(x>=228)return mixArm;return mixLeftArm;}
  if(k=='Basal'){if(y<215)return mixDHT;if(x>=122&&y<232)return mixNeck;if(x<122&&y<290)return (y<232||x<64)?mixNODHTedge:mixNODHT;if(x>=150)return mixNODHT;if(x>=110)return mixMid;return mixLower;}
  if(k=='Hillock'){if(x<184&&y>=372&&y<440)return mixHillockEnza;if(x>=205&&y>=420)return mixHillockLow;return mixHillock;}
  if(y<265||(x<305&&y<337)||(x<330&&y<300))return mixDHT;
  if(x>398&&y<400)return mixClubEdge;if(x>378&&y>=400)return mixClubCorner;
  if(x>=345&&y<340)return x<365?mixClubBlue:mixClubEnza;
  if(x>=330&&y<400)return mixClubMid;if(y>=425)return mixClubBase;return mixClubLeft;
}
function ancestryMix(k,x,y){
  if(k=='Dividing'){if(y>193)return mixBoth;if(x>=250&&y>150)return mixAFR;if(x>=228&&y<115)return mixAFR;if(x>=228)return mixBoth;
    if(y<85)return mixEUR;if(y<120)return mixAFR;if(y<150)return mixEUR;return x<205&&x>=180?mixAFR:mixEUR;}
  if(k=='Basal'){if(y<225)return mixEUR;return x<122?mixAFR:mixEUR;}
  if(k=='Hillock'){if(y<350)return mixEUR;if(x>225&&y<400)return mixEUR;if(x>258&&y<450)return mixEUR;return mixAFR;}
  if(y<262)return x>335?mixAFR:mixEUR;
  return x<345+(y-300)*.1?mixEUR:mixAFR;
}
function expandCells(rows,k){const o=[];rows.forEach(r=>{for(let i=1;i<r.length;i++){const x=r[i]/10,y=r[0],d=r[i]%10;o.push({x,y,k,t:treatMix(k,x,y)[d],a:ancestryMix(k,x,y)[d]});}});return o;}
function expandGene(rows){const o=[];rows.forEach(r=>{for(let i=1;i<r.length;i++)o.push([Math.floor(r[i]/10),r[0],r[i]%10]);});return o;}
const cells=[].concat(expandCells(basalRows,'Basal'),expandCells(basalExtraRows,'Basal'),expandCells(islandRows,'Basal'),expandCells(hillockRows,'Hillock'),expandCells(hillockExtraRows,'Hillock'),expandCells(dividingRows,'Dividing'),expandCells(clubRows,'Club'),expandCells(clubExtraRows,'Club'));
const xy=c=>[c.x,c.y];
const grids=[],xAxes=[],yAxes=[],series=[],graphics=[];
function addGrid(g,x,y){grids.push(g);const i=grids.length-1;xAxes.push(Object.assign({gridIndex:i},x));yAxes.push(Object.assign({gridIndex:i},y));return {x:xAxes.length-1,y:yAxes.length-1};}
function umapGrid(l,t,w,h){return addGrid({left:l,top:t,width:w,height:h},{type:'value',min:58,max:430,show:false},{type:'value',min:50,max:484,inverse:true,show:false});}
function scatter(ax,name,data,color,size){series.push({type:'scatter',name,xAxisIndex:ax.x,yAxisIndex:ax.y,data,symbolSize:size,itemStyle:{color},silent:true,progressive:0,animation:false});}
function lAxis(l,t,w,h,fs,gapX,gapY,pad){
  const base={type:'value',min:0,max:1,splitLine:{show:false},axisTick:{show:false},axisLabel:{show:false},axisLine:{onZero:false,lineStyle:{color:'#222',width:2}},nameLocation:'middle'};
  addGrid({left:l,top:t,width:w,height:h},Object.assign({},base,{name:'UMAP1',nameGap:gapX,nameTextStyle:{fontSize:fs,fontFamily:FONT,color:'#111',padding:[0,0,0,pad]}}),
    Object.assign({},base,{name:'UMAP2',nameGap:gapY,nameTextStyle:{fontSize:fs,fontFamily:FONT,color:'#111'}}));
}
function text(t,x,y,size,o){o=o||{};graphics.push({type:'text',x,y,rotation:o.rot||0,z:20,silent:true,style:{text:t,x:0,y:0,align:o.align||'left',verticalAlign:'middle',font:(o.style||'')+' '+size+'px '+FONT,fill:'#111'}});}

// Panel A
const axA=umapGrid(58,50,372,434);
["Basal","Hillock","Dividing","Club"].forEach(k=>scatter(axA,k,cells.filter(c=>c.k==k).map(xy),C[k],3.8));
lAxis(51,399,97,96,19.5,12,11,0);
[["A",1,20,37],["B",432,20,37],["C",1106,21,37],["D",362,578,37],["E",8,1367,37],["F",873,1367,37]].forEach(a=>text(a[0],a[1],a[2],a[3],{style:'bold'}));
text("Dividing",267,94,22.5);text("Basal",68,184,22.5);text("Hillock",217,323,22.5);text("Club",368,459,22.5);
// Panel B
const axB=umapGrid(483,49,371,435);
[["NODHT","N"],["DHT","D"],["Enza","E"]].forEach(s=>scatter(axB,s[0],cells.filter(c=>c.t==s[1]).map(xy),C[s[0]],3.8));
lAxis(472,399,96,96,19.5,12,11,0);
text("NODHT",472,200,22.5);text("Enza",826,280,22.5);text("DHT",799,454,22.5);
// Panel C
const axC=umapGrid(1089,49,387,435);
[["AFR","A"],["EUR","U"]].forEach(s=>scatter(axC,s[0],cells.filter(c=>c.a==s[1]).map(xy),C[s[0]],3.8));
lAxis(1073,399,97,96,19.5,12,11,0);
// Insets: layers are drawn tallest first, each reaching its running total, so they read as a stack
function inset(l,t,w,h,minX,maxX,minY,maxY,bw,stacks,margin){
  const ax=addGrid({left:l,top:t,width:w,height:h},
   {type:'value',min:minX,max:maxX,splitLine:{show:false},axisLine:{onZero:false,lineStyle:{color:'#222',width:2}},axisTick:{customValues:[1,2,3,4],length:4,lineStyle:{color:'#222'}},
    axisLabel:{customValues:[1,2,3,4],formatter:v=>cellTypes[v-1],rotate:45,fontSize:23,fontFamily:FONT,color:'#111',margin:8}},
   {type:'value',min:minY,max:maxY,splitLine:{show:false},axisLine:{onZero:false,lineStyle:{color:'#222',width:2}},axisTick:{customValues:[0,25,50,75,100],length:4,lineStyle:{color:'#222'}},
    axisLabel:{customValues:[0,25,50,75,100],formatter:v=>v+'%',align:'center',fontSize:23,fontFamily:FONT,color:'#111',margin,padding:[0,0,10,0],showMinLabel:true,showMaxLabel:true}});
  const totals=cellTypes.map(()=>0);
  const layers=stacks.map(s=>{const d=s[1].map((v,i)=>{totals[i]+=v;return [i+1,totals[i]];});return [s[0],d];});
  layers.reverse().forEach((s,k)=>series.push({type:'bar',name:s[0],xAxisIndex:ax.x,yAxisIndex:ax.y,barWidth:bw,barGap:'-100%',z:2+k,data:s[1],itemStyle:{color:C[s[0]]},silent:true,animation:false}));
}
inset(833,31,191,132,.42,4.62,-4.13,105,41,[["NODHT",compNODHT],["Enza",compEnza],["DHT",compDHT]],38);
inset(1422,17,222,152,.415,4.6,-5.1,105.8,48,[["EUR",compEUR],["AFR",compAFR]],32);
text("Composition (%)",748,92,24,{rot:Math.PI/2,align:'center'});text("Cell type",927,249,24,{align:'center'});
text("Composition (%)",1344,90,24,{rot:Math.PI/2,align:'center'});text("Cell type",1545,253,24,{align:'center'});
// Panel D
const LABEL_NUDGE=.075;
const axD=addGrid({left:450.5,top:615,width:903.5,height:523.5},
 {type:'value',min:.393,max:9.883,splitLine:{show:false},axisLine:{onZero:false,lineStyle:{color:'#222',width:2}},axisTick:{customValues:[1,2,3,4,5,6,7,8,9],length:5,lineStyle:{color:'#222'}},
  axisLabel:{customValues:[1,2,3,4,5,6,7,8,9].map(v=>v+LABEL_NUDGE),formatter:v=>groupNames[Math.round(v-LABEL_NUDGE)-1],rotate:45,fontSize:23.5,fontFamily:FONT,color:'#111',margin:18}},
 {type:'value',min:-.3545,max:.7875,splitLine:{show:false},axisLine:{onZero:false,lineStyle:{color:'#222',width:2}},axisTick:{customValues:[-.25,0,.25,.5,.75],length:5,lineStyle:{color:'#222'}},
  axisLabel:{customValues:[-.25,0,.25,.5,.75],formatter:v=>(v<0?'\u2212':'')+Math.abs(v).toFixed(2),fontSize:23.5,fontFamily:FONT,color:'#111',margin:8},
  name:'Signature score',nameLocation:'middle',nameGap:60,nameMoveOverlap:false,nameTextStyle:{fontSize:22,fontFamily:FONT,color:'#111'}});
const violins=[vClubDHT,vClubNODHT,vClubEnza,vBasalDHT,vBasalNODHT,vBasalEnza,vHillockDHT,vHillockNODHT,vHillockEnza];
series.push({type:'custom',xAxisIndex:axD.x,yAxisIndex:axD.y,z:3,silent:true,animation:false,clip:false,data:groupNames.map((n,i)=>[i+1,medians[i]]),
 renderItem:(p,api)=>{const i=p.dataIndex,x=i+1,prof=violins[i],line={stroke:'#2b2b2b',lineWidth:1.5,fill:null};
  const pts=prof.map(a=>api.coord([x+a[1],a[0]])).concat(prof.slice().reverse().map(a=>api.coord([x-a[1],a[0]])));
  const seg=(x1,v1,x2,v2)=>{const a=api.coord([x1,v1]),b=api.coord([x2,v2]);return {type:'line',shape:{x1:a[0],y1:a[1],x2:b[0],y2:b[1]},style:line};};
  const a=api.coord([x-.372,q3s[i]]),b=api.coord([x+.372,q1s[i]]),m1=api.coord([x-.175,means[i]]),m2=api.coord([x+.155,means[i]]);
  return {type:'group',children:[
   {type:'polygon',shape:{points:pts,smooth:.25},style:{fill:groupColors[i],stroke:'#2b2b2b',lineWidth:1.3}},
   seg(x,q3s[i],x,whiskHi[i]),seg(x,q1s[i],x,whiskLo[i]),
   {type:'rect',shape:{x:a[0],y:a[1],width:b[0]-a[0],height:b[1]-a[1]},style:{fill:groupColors[i],stroke:'#2b2b2b',lineWidth:1.5}},
   seg(x-.372,medians[i],x+.372,medians[i]),
   {type:'rect',shape:{x:m1[0],y:m1[1]-2.5,width:m2[0]-m1[0],height:5},style:{fill:'#0000ff'}}]};}});
series.push({type:'scatter',xAxisIndex:axD.x,yAxisIndex:axD.y,symbolSize:8,z:4,itemStyle:{color:'#2b2b2b'},silent:true,animation:false,
  data:outliers.flatMap((o,i)=>o.map(v=>[i+1,v]))});
brackets.forEach(b=>{series.push({type:'line',xAxisIndex:axD.x,yAxisIndex:axD.y,symbol:'none',silent:true,animation:false,z:4,lineStyle:{color:'#222',width:1.6},
  data:[[b[0],b[3]],[b[0],b[2]],[b[1],b[2]],[b[1],b[3]]]});
  series.push({type:'scatter',xAxisIndex:axD.x,yAxisIndex:axD.y,symbolSize:0,silent:true,animation:false,z:5,data:[[b[5],b[6]]],
  label:{show:true,position:'inside',formatter:b[4],fontFamily:FONT,color:'#000',fontSize:b[4]=='NS'?23.5:36}});});
text("Hallmark Androgen Response",458,583,24);text("Cell type",879,1293,23.5,{align:'center'});
// Gene panels
const STOPS=[[0,[211,211,211]],[.33,[176,160,228]],[.66,[125,93,240]],[1,[0,0,255]]];
function grad(t){for(let i=1;i<STOPS.length;i++){if(t<=STOPS[i][0]){const a=STOPS[i-1],b=STOPS[i],f=(t-a[0])/(b[0]-a[0]);return 'rgb('+a[1].map((c,k)=>Math.round(c+(b[1][k]-c)*f)).join(',')+')';}}return 'rgb(0,0,255)';}
const barStops=STOPS.map(s=>({offset:s[0],color:'rgb('+s[1].join(',')+')'}));
const panels=[
 {g:"PIGR",d:PIGR,sx:73,sy:1416,sw:219,sh:251,lx:58,ly:1586,lw:97,tx:191,ty:1370,nx:258,ny:1471,bx:325,bw:22,by:1491,max:4.46,ticks:[0,1,2,3,4],pad:0},
 {g:"CP",d:CP,sx:463,sy:1416,sw:219,sh:251,lx:449,ly:1586,lw:98,tx:572,ty:1370,nx:646,ny:1471,bx:714,bw:22,by:1491,max:4.86,ticks:[0,1,2,3,4],pad:0},
 {g:"MMP7",d:MMP7,sx:73,sy:1806,sw:219,sh:251,lx:58,ly:1976,lw:97,tx:192,ty:1760,nx:258,ny:1852,bx:325,bw:22,by:1880,max:5.1,ticks:[0,1,2,3,4,5],pad:0},
 {g:"SCGB1A1",d:SCGB1A1,sx:463,sy:1806,sw:219,sh:251,lx:449,ly:1976,lw:98,tx:585,ty:1760,nx:646,ny:1857,bx:714,bw:22,by:1880,max:7.1,ticks:[0,2,4,6],pad:0},
 {g:"KLK3",d:KLK3,sx:935,sy:1418,sw:221,sh:252,lx:921,ly:1586,lw:97,tx:1051,ty:1373,nx:1113,ny:1474,bx:1188,bw:21,by:1493,max:2.8,ticks:[0,1,2],pad:7},
 {g:"KRT8",d:KRT8,sx:1326,sy:1418,sw:219,sh:252,lx:1312,ly:1586,lw:97,tx:1443,ty:1373,nx:1483,ny:1474,bx:1577,bw:22,by:1493,max:4.65,ticks:[0,1,2,3,4],pad:0},
 {g:"AR",d:AR,sx:935,sy:1808,sw:221,sh:252,lx:921,ly:1976,lw:97,tx:1050,ty:1763,nx:1113,ny:1860,bx:1188,bw:21,by:1883,max:3.69,ticks:[0,1,2,3],pad:0},
 {g:"NKX3\u22121",d:NKX3_1,sx:1326,sy:1808,sw:219,sh:252,lx:1312,ly:1976,lw:97,tx:1446,ty:1763,nx:1483,ny:1860,bx:1577,bw:22,by:1883,max:3.53,ticks:[0,1,2,3],pad:0}];
const greyCells=cells.map(xy);
panels.forEach(p=>{
  const ax=umapGrid(p.sx,p.sy,p.sw,p.sh);
  scatter(ax,'',greyCells,'#d3d3d3',3.6);
  series.push({type:'scatter',xAxisIndex:ax.x,yAxisIndex:ax.y,symbolSize:3.2,silent:true,animation:false,progressive:0,data:expandGene(p.d),itemStyle:{color:o=>grad(o.value[2]/10.5)}});
  lAxis(p.lx,p.ly,p.lw,95,22.5,10,12,10);
  text(p.g,p.tx,p.ty,27,{style:'italic',align:'center'});
  text("Normalized expression",p.nx,p.ny,22.6);
  const tickBase={show:true,inside:true,length:4,customValues:p.ticks,lineStyle:{color:'#fff',width:1.5}};
  const bar=addGrid({left:p.bx,top:p.by,width:p.bw,height:107},
    {type:'category',data:[''],show:false},
    {type:'value',min:0,max:p.max,position:'right',z:6,splitLine:{show:false},axisLine:{show:false},axisTick:tickBase,axisLabel:{show:false}});
  yAxes.push({gridIndex:grids.length-1,type:'value',min:0,max:p.max,position:'left',z:6,splitLine:{show:false},axisLine:{show:false},axisTick:tickBase,axisLabel:{show:false}});
  series.push({type:'bar',xAxisIndex:bar.x,yAxisIndex:bar.y,barWidth:p.bw,silent:true,animation:false,data:[p.max],
    itemStyle:{color:new echarts.graphic.LinearGradient(0,1,0,0,barStops)}});
  p.ticks.forEach(t=>text(String(t),p.bx+p.bw+9,p.by+107-t/p.max*107-10-p.pad,23));
});
function legend(names,left,top,icon,size,lh,gap,pad,fs){return {data:names,left,top,orient:'vertical',icon,itemWidth:size,itemHeight:size,itemGap:gap,selectedMode:false,padding:0,
  textStyle:{fontSize:fs,fontFamily:FONT,color:'#111',lineHeight:lh,padding:[0,0,0,pad]}};}
const chart=echarts.init(document.getElementById('c'),null,{renderer:'canvas'});
chart.setOption({animation:false,backgroundColor:'#fff',grid:grids,xAxis:xAxes,yAxis:yAxes,series,graphic:graphics,
 legend:[legend(["Basal","Club","Dividing","Hillock"],57,43,'circle',16,22,6.5,15,23),legend(["DHT","Enza","NODHT"],484,59,'circle',16,22,5.5,14,23),legend(["AFR","EUR"],1063,155,'circle',16,22,6.5,15,23),
  legend(["DHT","Enza","NODHT"],1020,62,'rect',10,18,-3,0,24),legend(["AFR","EUR"],1648,68,'rect',11,20,2,0,24)]});
</script></body></html>
